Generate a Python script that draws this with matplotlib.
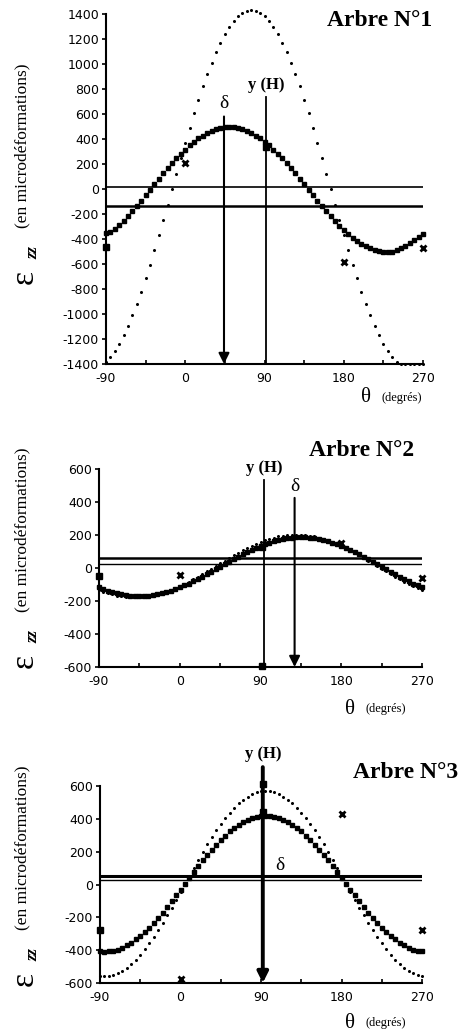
import numpy as np
import matplotlib
matplotlib.use("Agg")
import matplotlib.pyplot as plt

W, H = 472, 1034

theta = list(range(-90, 275, 5))

# panel 1
fit1 = [-355, -340, -318, -290, -255, -216, -176, -134, -92, -48,
        -5, 39, 82, 125, 166, 207, 245, 282, 316, 349,
        378, 405, 428, 448, 465, 478, 488, 493, 495, 493,
        488, 478, 465, 448, 428, 405, 378, 349, 316, 282,
        245, 207, 166, 125, 82, 39, -5, -48, -92, -134,
        -176, -216, -255, -292, -326, -359, -388, -415, -438, -458,
        -475, -488, -498, -503, -505, -500, -490, -475, -455, -435,
        -410, -385, -360]
dot1 = [-1381, -1344, -1296, -1238, -1171, -1095, -1011, -919, -821, -715,
        -605, -489, -370, -249, -124, 0, 124, 249, 370, 489,
        605, 715, 821, 919, 1011, 1095, 1171, 1238, 1296, 1344,
        1381, 1408, 1425, 1430, 1425, 1408, 1381, 1344, 1296, 1238,
        1171, 1095, 1011, 919, 821, 715, 605, 489, 370, 249,
        124, 0, -124, -249, -370, -489, -605, -715, -821, -919,
        -1011, -1095, -1171, -1238, -1296, -1344, -1381, -1400, -1400, -1400,
        -1400, -1400, -1400]

# panel 2
fit2 = [-118, -128, -138, -146, -153, -159, -164, -167, -169, -170,
        -169, -167, -164, -159, -153, -146, -138, -128, -118, -106,
        -94, -81, -67, -53, -38, -23, -7, 8, 23, 39,
        54, 69, 83, 97, 110, 122, 134, 144, 154, 162,
        169, 175, 180, 183, 185, 186, 185, 183, 180, 175,
        169, 162, 154, 144, 134, 122, 110, 97, 83, 69,
        54, 39, 23, 8, -7, -23, -38, -53, -67, -81,
        -94, -106, -118]
dot2 = [-134, -144, -153, -160, -167, -172, -175, -177, -178, -177,
        -175, -172, -167, -160, -153, -144, -134, -122, -110, -97,
        -83, -68, -53, -37, -21, -5, 12, 29, 45, 61,
        77, 92, 107, 121, 134, 146, 158, 168, 177, 184,
        191, 196, 199, 201, 202, 201, 199, 196, 191, 184,
        177, 168, 158, 146, 134, 121, 107, 92, 77, 61,
        45, 29, 12, -5, -21, -37, -53, -68, -83, -97,
        -110, -122, -134]

# panel 3
fit3 = [-408, -410, -408, -404, -396, -385, -371, -354, -335, -313,
        -288, -262, -233, -203, -171, -137, -102, -67, -31, 5,
        41, 77, 112, 147, 181, 213, 243, 272, 298, 323,
        345, 364, 381, 395, 406, 414, 418, 420, 418, 414,
        406, 395, 381, 364, 345, 323, 298, 272, 243, 213,
        181, 147, 112, 77, 41, 5, -31, -67, -102, -137,
        -171, -203, -233, -262, -288, -313, -335, -354, -371, -385,
        -396, -404, -408]
dot3 = [-558, -560, -558, -552, -541, -526, -507, -484, -458, -428,
        -394, -358, -319, -278, -234, -188, -141, -93, -44, 5,
        54, 103, 151, 198, 244, 288, 329, 368, 404, 438,
        468, 494, 517, 536, 551, 562, 568, 570, 568, 562,
        551, 536, 517, 494, 468, 438, 404, 368, 329, 288,
        244, 198, 151, 103, 54, 5, -44, -93, -141, -188,
        -234, -278, -319, -358, -394, -428, -458, -484, -507, -526,
        -541, -552, -558]

# measured points
sq1_x, sq1_y = [-90, 92], [-465, 336]
cr1_x, cr1_y = [0, 180, 270], [210, -580, -470]
sq2_x, sq2_y = [-90, 92, 92], [-50, 130, -595]
cr2_x, cr2_y = [0, 180, 270], [-40, 150, -60]
sq3_x, sq3_y = [-90, 92, 92], [-280, 610, 440]
cr3_x, cr3_y = [0, 180, 270], [-575, 430, -280]

xticks = [-90, 0, 90, 180, 270]

fig = plt.figure(figsize=(W / 100, H / 100), dpi=100)


def fx(px):
    return px / W


def fy(py):
    return 1 - py / H


def box(l, t, r, b):
    return [fx(l), fy(b), (r - l) / W, (b - t) / H]


serif = "Liberation Serif"


def setup(ax, ylim, ystep):
    ax.set_xlim(-90, 270)
    ax.set_ylim(*ylim)
    for s in ["top", "right"]:
        ax.spines[s].set_visible(False)
    for s in ["left", "bottom"]:
        ax.spines[s].set_linewidth(1.5)
    ax.set_xticks(xticks)
    ax.set_xticklabels([str(v) for v in xticks], fontfamily="DejaVu Sans", fontsize=9)
    ax.set_xticks(np.arange(-90, 271, 45), minor=True)
    ax.set_yticks(np.arange(ylim[0], ylim[1] + 1, ystep))
    ax.set_yticklabels([str(v) for v in np.arange(ylim[0], ylim[1] + 1, ystep)],
                       fontfamily="DejaVu Sans", fontsize=9)
    ax.tick_params(axis="x", which="both", direction="in", length=3, width=1.2, pad=6)
    ax.tick_params(axis="y", direction="out", length=3, width=1.2, pad=2)
    ax.patch.set_alpha(0)


def curves(ax, fit, dot, sqx, sqy, crx, cry):
    ax.plot(theta, dot, ls="none", marker="o", ms=1.2, color="k", clip_on=False)
    ax.plot(theta, fit, ls="none", marker="s", ms=2.8, color="k", clip_on=False)
    ax.plot(sqx, sqy, ls="none", marker="s", ms=4.5, color="k", clip_on=False)
    ax.plot(crx, cry, ls="none", marker="x", ms=4, mew=2, color="k", clip_on=False)


def arrow(ax, x, y0, y1, lw=1.5):
    ax.annotate("", xy=(x, y1), xytext=(x, y0),
                arrowprops=dict(arrowstyle="-|>", lw=lw, color="k",
                                mutation_scale=16, shrinkA=0, shrinkB=0),
                annotation_clip=False)


def ylabel(ybot):
    fig.text(fx(24), fy(ybot), "ε", fontsize=24, family=serif, rotation=90,
             rotation_mode="anchor", ha="left", va="center")
    fig.text(fx(33), fy(ybot - 25), "zz", fontsize=12, family=serif,
             fontweight="bold", style="italic", rotation=90,
             rotation_mode="anchor", ha="left", va="center")
    fig.text(fx(22), fy(ybot - 56), "(en microdéformations)", fontsize=12.5,
             family=serif, rotation=90, rotation_mode="anchor",
             ha="left", va="center")


def xlabel(x, y):
    fig.text(fx(x), fy(y), "θ", fontsize=15, family=serif, ha="center", va="center")
    fig.text(fx(x + 15), fy(y), "(degrés)", fontsize=9, family=serif,
             ha="left", va="center")


# ---- panel 1
ax1 = fig.add_axes(box(106, 14, 423, 364))
setup(ax1, (-1400, 1400), 200)
ax1.axhline(15, color="k", lw=1.2)
ax1.axhline(-135, color="k", lw=1.8)
curves(ax1, fit1, dot1, sq1_x, sq1_y, cr1_x, cr1_y)
ax1.plot([92, 92], [740, -1400], color="k", lw=1.3)
arrow(ax1, 44, 580, -1400)
ax1.text(44, 620, "δ", fontsize=14, family=serif, ha="center", va="bottom")
ax1.text(92, 770, "y (H)", fontsize=12, family=serif, fontweight="bold",
         ha="center", va="bottom")
fig.text(fx(380), fy(20), "Arbre N°1", fontsize=17, family=serif,
         fontweight="bold", ha="center", va="center")
ylabel(284)
xlabel(366, 398)

# ---- panel 2
ax2 = fig.add_axes(box(99, 469, 422, 667))
setup(ax2, (-600, 600), 200)
ax2.axhline(62, color="k", lw=1.8)
ax2.axhline(25, color="k", lw=1.0)
curves(ax2, fit2, dot2, sq2_x, sq2_y, cr2_x, cr2_y)
ax2.plot([94, 94], [535, -600], color="k", lw=1.3)
arrow(ax2, 128, 425, -600)
ax2.text(128, 445, "δ", fontsize=14, family=serif, ha="center", va="bottom")
ax2.text(94, 560, "y (H)", fontsize=12, family=serif, fontweight="bold",
         ha="center", va="bottom")
fig.text(fx(362), fy(451), "Arbre N°2", fontsize=17, family=serif,
         fontweight="bold", ha="center", va="center")
ylabel(668)
xlabel(350, 709)

# ---- panel 3
ax3 = fig.add_axes(box(100, 786, 422, 983))
setup(ax3, (-600, 600), 200)
ax3.axhline(50, color="k", lw=2.2)
ax3.axhline(25, color="k", lw=1.0)
curves(ax3, fit3, dot3, sq3_x, sq3_y, cr3_x, cr3_y)
arrow(ax3, 92, 715, -600, lw=2.8)
ax3.text(111, 65, "δ", fontsize=14, family=serif, ha="center", va="bottom")
ax3.text(92, 745, "y (H)", fontsize=12, family=serif, fontweight="bold",
         ha="center", va="bottom")
fig.text(fx(406), fy(773), "Arbre N°3", fontsize=17, family=serif,
         fontweight="bold", ha="center", va="center")
ylabel(986)
xlabel(350, 1023)

fig.savefig("out.png", dpi=100)
